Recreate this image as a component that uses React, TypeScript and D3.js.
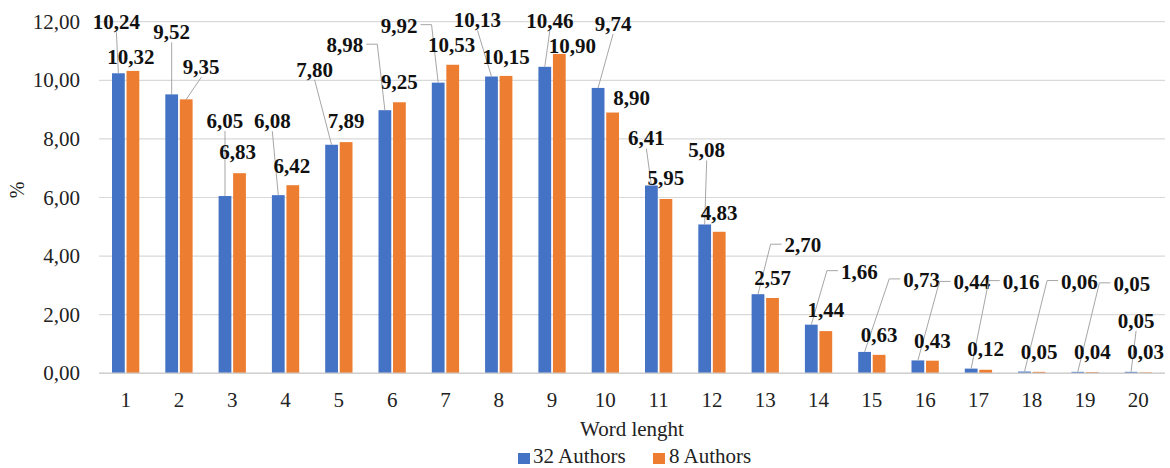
import React from "react";
import * as d3 from "d3";

const categories = ["1","2","3","4","5","6","7","8","9","10","11","12","13","14","15","16","17","18","19","20"];
const authors32 = [10.24, 9.52, 6.05, 6.08, 7.80, 8.98, 9.92, 10.13, 10.46, 9.74, 6.41, 5.08, 2.70, 1.66, 0.73, 0.44, 0.16, 0.06, 0.05, 0.05];
const authors8 = [10.32, 9.35, 6.83, 6.42, 7.89, 9.25, 10.53, 10.15, 10.90, 8.90, 5.95, 4.83, 2.57, 1.44, 0.63, 0.43, 0.12, 0.05, 0.04, 0.03];
const yTicks = [0, 2, 4, 6, 8, 10, 12];
const seriesNames = ["32 Authors", "8 Authors"];

// label layout: offset of label centre from bar top (px) and leader style
type Lbl = [number, number, string];
const blueLabelLayout: Lbl[] = [
  [-2, -51, "s"], [0, -62, "s"], [0, -75, "s"], [-6, -74, "s"], [-17, -75, "s"],
  [-40, -65, "r"], [-39, -57, "r"], [-14, -56, "s"], [5, -46, "s"], [15, -64, "s"],
  [-5, -47, "s"], [2, -74, "s"], [45, -49, "l"], [48, -53, "l"], [57, -72, "l"],
  [54, -78, "l"], [50, -87, "l"], [55, -90, "l"], [54, -88, "l"], [5, -51, "s"],
];
const orangeLabelLayout: Lbl[] = [
  [-2, -14, "n"], [15, -32, "s"], [-2, -21, "n"], [-1, -19, "n"], [0, -21, "n"],
  [0, -20, "n"], [-1, -20, "n"], [0, -19, "n"], [13, -8, "n"], [19, -15, "n"],
  [0, -21, "n"], [0, -19, "n"], [0, -20, "n"], [0, -21, "n"], [0, -20, "n"],
  [0, -20, "n"], [0, -21, "n"], [0, -20, "n"], [0, -20, "n"], [0, -20, "n"],
];

const W = 1170, H = 468;
const left = 99, right = 1165, top = 21.7, bottom = 373.3;
const BLUE = "#4472C4", ORANGE = "#ED7D31";
const FONT = "Liberation Serif, Tinos, Times New Roman, DejaVu Serif, serif";
const LFS = 21;

const fmt = (v: number, d: number) => v.toFixed(d).replace(".", ",");

export default function App() {
  const x0 = d3.scaleBand<string>().domain(categories).range([left, right]).padding(0);
  const step = x0.bandwidth();
  const x1 = d3.scaleBand<string>().domain(seriesNames)
    .range([step / 2 - 13.65, step / 2 + 13.65]).paddingInner(3.3 / 27.3);
  const y = d3.scaleLinear().domain([0, 12]).range([bottom, top]);
  const bw = x1.bandwidth();

  const labelWidth = (s: string) => {
    let w = 0;
    for (const ch of s) w += ch === "," ? 0.25 : 0.5;
    return w * LFS;
  };

  const txtStyle = (size: number, bold = false): React.CSSProperties => ({
    fontFamily: FONT,
    fontSize: size,
    fontWeight: bold ? 700 : 400,
  });

  const renderLabels = (vals: number[], layout: Lbl[], series: string) =>
    vals.map((v, i) => {
      const bx = (x0(categories[i]) as number) + (x1(series) as number) + bw / 2;
      const by = y(v);
      const [dx, dy, kind] = layout[i];
      const cx = bx + dx, cy = by + dy;
      const txt = fmt(v, 2);
      const hw = labelWidth(txt) / 2;
      let path = "";
      if (kind === "s") {
        path = d3.line()([[cx, cy + 10], [bx, by]]) as string;
      } else if (kind === "r") {
        path = d3.line()([[cx + hw + 3, cy - 1], [cx + hw + 14, cy - 1], [bx, by]]) as string;
      } else if (kind === "l") {
        path = d3.line()([[cx - hw - 3, cy - 1], [cx - hw - 14, cy - 1], [bx, by]]) as string;
      }
      return (
        <g key={series + i}>
          {path && <path d={path} fill="none" stroke="#a6a6a6" strokeWidth={1} />}
          <text x={cx} y={cy + 7} textAnchor="middle" style={txtStyle(LFS, true)} fill="#111">{txt}</text>
        </g>
      );
    });

  return (
    <svg width={W} height={H} style={{ position: "absolute", left: 0, top: 0, background: "#fff" }}>
      <rect x={0} y={0} width={W} height={H} fill="#fff" />
      {yTicks.map((t) => (
        <g key={t}>
          <line x1={left} x2={right} y1={y(t)} y2={y(t)} stroke="#d9d9d9" strokeWidth={1.2} />
          <text x={80} y={y(t) + 7} textAnchor="end" style={txtStyle(21)} fill="#222">
            {fmt(t, 2)}
          </text>
        </g>
      ))}
      {categories.map((c, i) => (
        <g key={c} transform={`translate(${x0(c)},0)`}>
          <rect x={x1(seriesNames[0])} y={y(authors32[i])} width={bw}
            height={y(0) - y(authors32[i])} fill={BLUE} />
          <rect x={x1(seriesNames[1])} y={y(authors8[i])} width={bw}
            height={y(0) - y(authors8[i])} fill={ORANGE} />
          <text x={step / 2} y={407} textAnchor="middle" style={txtStyle(21)} fill="#222">{c}</text>
        </g>
      ))}
      <line x1={left} x2={right} y1={y(0)} y2={y(0)} stroke="#d0d0d0" strokeWidth={1.5} />
      {renderLabels(authors32, blueLabelLayout, seriesNames[0])}
      {renderLabels(authors8, orangeLabelLayout, seriesNames[1])}
      <text transform="translate(24,190) rotate(-90)" textAnchor="middle" style={txtStyle(20)} fill="#222">%</text>
      <text x={(left + right) / 2} y={436} textAnchor="middle" style={txtStyle(21)} fill="#222">
        Word lenght
      </text>
      <rect x={518} y={453} width={12} height={11} fill={BLUE} />
      <text x={533} y={463} style={txtStyle(21)} fill="#222">{seriesNames[0]}</text>
      <rect x={653} y={453} width={12} height={11} fill={ORANGE} />
      <text x={669} y={463} style={txtStyle(21)} fill="#222">{seriesNames[1]}</text>
    </svg>
  );
}
